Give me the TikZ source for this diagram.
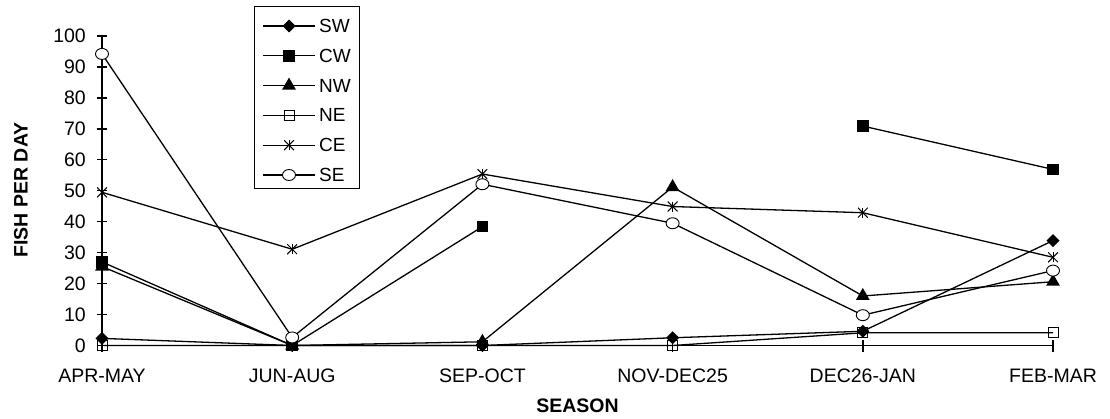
\documentclass[tikz,border=0pt]{standalone}
\usepackage{fontspec}
\setmainfont{Liberation Sans}
\usetikzlibrary{shapes.geometric}
\newcommand\mytickfont{\fontsize{19.5}{22}\selectfont}
\newcommand\mylegfont{\fontsize{19}{22}\selectfont}
\newcommand\mytitlefont{\fontsize{19.5}{22}\selectfont\bfseries}
\tikzset{
  mk/.style={inner sep=0pt, outer sep=0pt, line width=0.9pt},
  mdia/.style={mk, diamond, fill=black, minimum width=13pt, minimum height=13pt},
  msq/.style={mk, rectangle, fill=black, minimum size=11.5pt},
  mtri/.style={mk, regular polygon, regular polygon sides=3, fill=black, minimum size=16pt},
  mosq/.style={mk, rectangle, draw, minimum size=10pt},
  mast/.style={mk, rectangle, minimum size=10pt, path picture={
      \draw[line width=1pt] (path picture bounding box.north) -- (path picture bounding box.south);
      \draw[line width=1pt] (path picture bounding box.north west) -- (path picture bounding box.south east);
      \draw[line width=1pt] (path picture bounding box.north east) -- (path picture bounding box.south west);}},
  mcirc/.style={mk, ellipse, draw, fill=white, minimum width=13pt, minimum height=11pt},
  series/.style={line width=1.3pt, line join=round},
  axisline/.style={line width=1.4pt},
  ticklab/.style={inner sep=0pt, font=\mytickfont},
  leglab/.style={inner sep=0pt, anchor=west, font=\mylegfont},
}
\begin{document}
\begin{tikzpicture}[x=1pt, y=1pt]
\useasboundingbox (0,0) rectangle (1110,418);
\begin{scope}[shift={(102,72.5)}, x=190.2pt, y=3.095pt]
  % axes
  \coordinate (o) at (0,0);
  \coordinate (ytop) at (0,100);
  \coordinate (xend) at (5,0);
  \draw[axisline] (ytop) -- (o) -- (xend);
  \foreach \t in {0,10,...,100} {
    \draw[axisline] ([xshift=-5pt]0,\t) -- ([xshift=5pt]0,\t);
    \node[ticklab, anchor=east] (yl\t) at ([xshift=-16pt]0,\t) {\t};
  }
  \foreach \lab [count=\i from 0] in {APR-MAY,JUN-AUG,SEP-OCT,NOV-DEC25,DEC26-JAN,FEB-MAR} {
    \draw[axisline] ([yshift=-6pt]\i,0) -- ([yshift=6pt]\i,0);
    \node[ticklab, anchor=base] (xl\i) at ([yshift=-36.5pt]\i,0) {\lab};
  }
  % data coordinates
  \foreach \v [count=\i from 0] in {2.3,0,0,2.5,4.6,33.9} \coordinate (sw\i) at (\i,\v);
  \coordinate (cw0) at (0,27);
  \coordinate (cw1) at (1,0);
  \coordinate (cw2) at (2,38.4);
  \coordinate (cw4) at (4,70.9);
  \coordinate (cw5) at (5,56.9);
  \foreach \v [count=\i from 0] in {25.5,0,1.2,51.2,16,20.6} \coordinate (nw\i) at (\i,\v);
  \foreach \v [count=\i from 0] in {0,0,0,0,4.1,4.1} \coordinate (ne\i) at (\i,\v);
  \foreach \v [count=\i from 0] in {49.5,31.1,55.4,44.9,42.9,28.5} \coordinate (ce\i) at (\i,\v);
  \foreach \v [count=\i from 0] in {94.2,2.6,52.1,39.5,9.8,24.2} \coordinate (se\i) at (\i,\v);
  % series lines
  \draw[series] (sw0) -- (sw1) -- (sw2) -- (sw3) -- (sw4) -- (sw5);
  \draw[series] (cw0) -- (cw1) -- (cw2);
  \draw[series] (cw4) -- (cw5);
  \draw[series] (nw0) -- (nw1) -- (nw2) -- (nw3) -- (nw4) -- (nw5);
  \draw[series] (ne0) -- (ne1) -- (ne2) -- (ne3) -- (ne4) -- (ne5);
  \draw[series] (ce0) -- (ce1) -- (ce2) -- (ce3) -- (ce4) -- (ce5);
  \draw[series] (se0) -- (se1) -- (se2) -- (se3) -- (se4) -- (se5);
  % markers
  \foreach \i in {0,...,5} \node[mdia] (swm\i) at (sw\i) {};
  \foreach \i in {0,1,2,4,5} \node[msq] (cwm\i) at (cw\i) {};
  \foreach \i in {0,...,5} \node[mtri] (nwm\i) at (nw\i) {};
  \foreach \i in {0,...,5} \node[mosq] (nem\i) at (ne\i) {};
  \foreach \i in {0,...,5} \node[mast] (cem\i) at (ce\i) {};
  \foreach \i in {0,...,5} \node[mcirc] (sem\i) at (se\i) {};
\end{scope}
% axis titles
\node[inner sep=0pt, font=\mytitlefont] (xtitle) at (577.5,12.5) {SEASON};
\node[inner sep=0pt, font=\mytitlefont, rotate=90] (ytitle) at (21,228) {FISH PER DAY};
% legend
\node[draw, line width=1pt, minimum width=105pt, minimum height=182pt, inner sep=0pt] (legend) at (306.5,320) {};
\foreach \n/\st/\lab [count=\k from 0] in {1/mdia/SW,2/msq/CW,3/mtri/NW,4/mosq/NE,5/mast/CE,6/mcirc/SE} {
  \coordinate (la\n) at (263,392-29.8*\k);
  \coordinate (lb\n) at (315,392-29.8*\k);
  \draw[series] (la\n) -- (lb\n);
  \node[\st] (lm\n) at (289,392-29.8*\k) {};
  \node[leglab] (lt\n) at (319,392-29.8*\k) {\lab};
}
\end{tikzpicture}
\end{document}
